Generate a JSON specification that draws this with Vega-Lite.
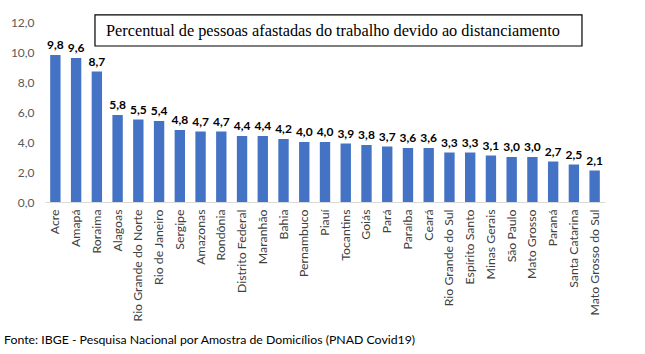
{
  "$schema": "https://vega.github.io/schema/vega-lite/v6.json",
  "autosize": "none",
  "width": 560,
  "height": 180,
  "padding": {"left": 45, "top": 22, "right": 40, "bottom": 152},
  "background": "white",
  "config": {
    "locale": {"number": {"decimal": ",", "thousands": ".", "grouping": [3], "currency": ["R$", ""]}},
    "view": {"stroke": null},
    "font": "Lato"
  },
  "title": {
    "text": "Fonte: IBGE - Pesquisa Nacional por Amostra de Domicílios (PNAD Covid19)",
    "orient": "bottom",
    "anchor": "start",
    "frame": "group",
    "dx": -41,
    "offset": 13,
    "font": "Lato",
    "fontSize": 12.3,
    "fontWeight": "normal",
    "color": "#000000"
  },
  "datasets": {
    "states": [
      {"estado": "Acre", "valor": 9.8},
      {"estado": "Amapá", "valor": 9.6},
      {"estado": "Roraima", "valor": 8.7},
      {"estado": "Alagoas", "valor": 5.8},
      {"estado": "Rio Grande do Norte", "valor": 5.5},
      {"estado": "Rio de Janeiro", "valor": 5.4},
      {"estado": "Sergipe", "valor": 4.8},
      {"estado": "Amazonas", "valor": 4.7},
      {"estado": "Rondônia", "valor": 4.7},
      {"estado": "Distrito Federal", "valor": 4.4},
      {"estado": "Maranhão", "valor": 4.4},
      {"estado": "Bahia", "valor": 4.2},
      {"estado": "Pernambuco", "valor": 4.0},
      {"estado": "Piauí", "valor": 4.0},
      {"estado": "Tocantins", "valor": 3.9},
      {"estado": "Goiás", "valor": 3.8},
      {"estado": "Pará", "valor": 3.7},
      {"estado": "Paraíba", "valor": 3.6},
      {"estado": "Ceará", "valor": 3.6},
      {"estado": "Rio Grande do Sul", "valor": 3.3},
      {"estado": "Espírito Santo", "valor": 3.3},
      {"estado": "Minas Gerais", "valor": 3.1},
      {"estado": "São Paulo", "valor": 3.0},
      {"estado": "Mato Grosso", "valor": 3.0},
      {"estado": "Paraná", "valor": 2.7},
      {"estado": "Santa Catarina", "valor": 2.5},
      {"estado": "Mato Grosso do Sul", "valor": 2.1}
    ],
    "caixa": [
      {"x1": 2.41, "x2": 25.89, "y1": 10.4, "y2": 12.47, "xt": 2.94, "yt": 11.4, "texto": "Percentual de pessoas afastadas do trabalho devido ao distanciamento"}
    ]
  },
  "resolve": {"scale": {"x": "independent"}},
  "layer": [
    {
      "data": {"name": "states"},
      "mark": {"type": "bar", "color": "#4472C4"},
      "encoding": {
        "x": {
          "field": "estado", "type": "nominal", "sort": null,
          "scale": {"paddingInner": 0.5, "paddingOuter": 0.25},
          "axis": {
            "title": null, "labelAngle": -90, "labelFont": "Lato", "labelFontSize": 12.3,
            "labelColor": "#404040", "ticks": false, "domainColor": "#d9d9d9",
            "labelPadding": 7, "labelAlign": "right", "labelBaseline": "middle", "labelOverlap": false
          }
        },
        "y": {
          "field": "valor", "type": "quantitative",
          "scale": {"domain": [0, 12]},
          "axis": {
            "title": null, "values": [0, 2, 4, 6, 8, 10, 12], "format": ".1f",
            "grid": false, "domain": false, "ticks": false, "labelPadding": 11,
            "labelFont": "Lato", "labelFontSize": 12, "labelColor": "#595959", "labelOverlap": false
          }
        }
      }
    },
    {
      "data": {"name": "states"},
      "mark": {"type": "text", "dy": -10, "fontWeight": "bold", "fontSize": 12, "font": "Lato", "color": "#000000"},
      "encoding": {
        "x": {"field": "estado", "type": "nominal", "sort": null, "scale": {"paddingInner": 0.5, "paddingOuter": 0.25}, "axis": null},
        "y": {
          "field": "valor", "type": "quantitative",
          "axis": {
            "title": null, "values": [0, 2, 4, 6, 8, 10, 12], "format": ".1f",
            "grid": false, "domain": false, "ticks": false, "labelPadding": 11,
            "labelFont": "Lato", "labelFontSize": 12, "labelColor": "#595959", "labelOverlap": false
          }
        },
        "text": {"field": "valor", "type": "quantitative", "format": ".1f"}
      }
    },
    {
      "data": {"name": "caixa"},
      "layer": [
        {
          "mark": {"type": "rect", "fill": "white", "stroke": "#000000", "strokeWidth": 1.2, "clip": false},
          "encoding": {
            "x": {"field": "x1", "type": "quantitative", "scale": {"domain": [0, 27], "nice": false, "zero": false}, "axis": null},
            "x2": {"field": "x2"},
            "y": {
              "field": "y1", "type": "quantitative",
              "axis": {
                "title": null, "values": [0, 2, 4, 6, 8, 10, 12], "format": ".1f",
                "grid": false, "domain": false, "ticks": false, "labelPadding": 11,
                "labelFont": "Lato", "labelFontSize": 12, "labelColor": "#595959", "labelOverlap": false
              }
            },
            "y2": {"field": "y2"}
          }
        },
        {
          "mark": {"type": "text", "align": "left", "baseline": "middle", "font": "Liberation Serif", "fontSize": 16.3, "color": "#000000"},
          "encoding": {
            "x": {"field": "xt", "type": "quantitative", "scale": {"domain": [0, 27], "nice": false, "zero": false}, "axis": null},
            "y": {
              "field": "yt", "type": "quantitative",
              "axis": {
                "title": null, "values": [0, 2, 4, 6, 8, 10, 12], "format": ".1f",
                "grid": false, "domain": false, "ticks": false, "labelPadding": 11,
                "labelFont": "Lato", "labelFontSize": 12, "labelColor": "#595959", "labelOverlap": false
              }
            },
            "text": {"field": "texto"}
          }
        }
      ]
    }
  ]
}
